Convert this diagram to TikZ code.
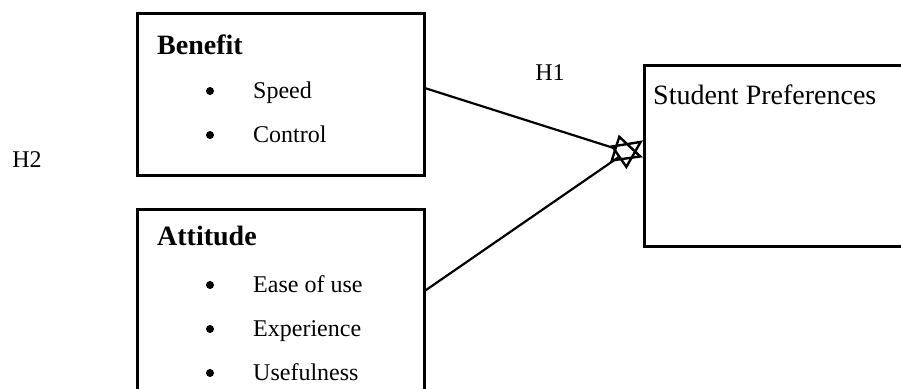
\documentclass[tikz,border=0pt]{standalone}
\usepackage{fontspec}
\setmainfont{Liberation Serif}
\usetikzlibrary{arrows.meta, positioning}

\begin{document}
\begin{tikzpicture}[x=1pt, y=-1pt,
		box/.style={draw, line width=2.6pt, inner sep=0pt, anchor=north west},
		heading/.style={font=\fontsize{28}{32}\selectfont\bfseries, anchor=base west, inner sep=0pt},
		item/.style={font=\fontsize{24}{28}\selectfont, anchor=base west, inner sep=0pt},
		dot/.style={circle, fill, inner sep=0pt, minimum size=8pt},
		hyp/.style={font=\fontsize{24}{28}\selectfont, inner sep=0pt},
		link/.style={line width=2.2pt, -{Triangle[open, length=30pt, width=28pt, line width=2.4pt]}}]

		\useasboundingbox (0,0) rectangle (901,388);

		% construct boxes
		\node[box, minimum width=287pt, minimum height=162pt] (benefit) at (136,12) {};
		\node[box, minimum width=287pt, minimum height=200pt] (attitude) at (136,208) {};
		\node[box, minimum width=290pt, minimum height=181pt] (prefs) at (643,64) {};

		% headings
		\node[heading] (benefitTitle) at (157,54) {Benefit};
		\node[heading] (attitudeTitle) at (157,245) {Attitude};
		\node[item, font=\fontsize{28}{32}\selectfont] (prefsTitle) at (653,104) {Student Preferences};

		% benefit items
		\foreach \txt [count=\i] in {Speed, Control} {
			\node[item] (benefit-\i) at (253,{98 + 44*(\i - 1)}) {\txt};
			\node[dot] (benefitDot-\i) at (210,{91 + 44*(\i - 1)}) {};
		}

		% attitude items
		\foreach \txt [count=\i] in {Ease of use, Experience, Usefulness} {
			\node[item] (attitude-\i) at (253,{292 + 44*(\i - 1)}) {\txt};
			\node[dot] (attitudeDot-\i) at (210,{285 + 44*(\i - 1)}) {};
		}

		% hypotheses
		\node[hyp] (h1) at (550,73) {H1};
		\node[hyp] (h2) at (27,160) {H2};

		% links
		\draw[link] ([yshift=6pt]benefit.east) -- ([yshift=-1.5pt]prefs.west);
		\draw[link] ([yshift=19pt]attitude.east) -- ([yshift=15.5pt]prefs.west);

	\end{tikzpicture}
\end{document}
